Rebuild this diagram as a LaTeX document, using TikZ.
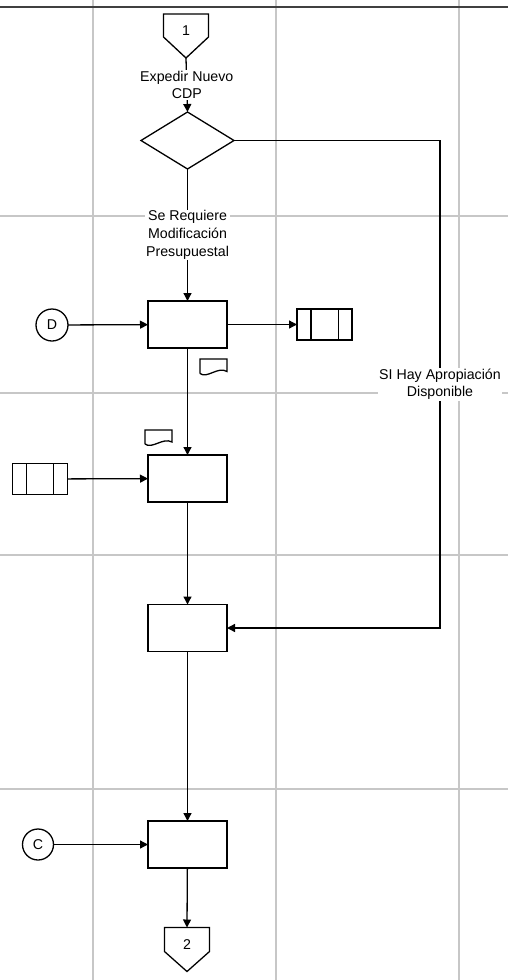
\documentclass[tikz,border=0pt]{standalone}
\usepackage{fontspec}
\setmainfont{Liberation Sans}
\usetikzlibrary{arrows.meta,shapes.geometric,calc}
\begin{document}
\begin{tikzpicture}[x=1pt,y=-1pt,
  font=\fontsize{14.2}{17.8}\selectfont,
  grid/.style={draw=black!22,line width=1.2pt},
  topline/.style={draw=black!75,line width=2pt},
  shp/.style={draw=black,line width=1.3pt},
  proc/.style={shp,rectangle,minimum width=79pt,minimum height=47pt,inner sep=0pt,outer sep=0pt},
  conn/.style={shp,circle,minimum size=32pt,inner sep=0pt,outer sep=0pt},
  stor/.style={rectangle,minimum width=55pt,minimum height=31pt,inner sep=0pt,outer sep=0pt},
  pent/.style={rectangle,minimum width=45pt,minimum height=44pt,inner sep=0pt,outer sep=0pt},
  flow/.style={draw=black,line width=1.3pt,-{Triangle[length=8pt,width=8pt]}},
  lbl/.style={fill=white,align=center,inner sep=1pt}
]
\useasboundingbox (0,0) rectangle (508,980);
% grid
\foreach \x in {93,276,459} \draw[grid] (\x,0) -- (\x,980);
\foreach \y in {216,393,555,789} \draw[grid] (0,\y) -- (508,\y);
\draw[topline] (0,6.5) -- (508,6.5);

% off-page connector 1
\node[pent] (c1) at (186,36) {};
\draw[shp] (c1.north west) -- (c1.north east) -- ($(c1.north east)+(0,23)$) -- (c1.south) -- ($(c1.north west)+(0,23)$) -- cycle;
\node (t1) at (186,30.5) {1};

% decision
\node[shp,diamond,minimum width=93pt,minimum height=57pt,inner sep=0pt,outer sep=0pt,aspect=1.63] (dia) at (187.5,140.5) {};

% processes
\node[proc] (b1) at (187.5,324.5) {};
\node[proc] (b2) at (187.5,478.5) {};
\node[proc] (b3) at (187.5,628) {};
\node[proc] (b4) at (187.5,844.5) {};

% connectors
\node[conn] (d) at (52,325) {D};
\node[conn,minimum size=31pt] (c) at (38,844.5) {C};

% storage
\node[stor] (s1) at (324.5,324.5) {};
\draw[shp] (s1.north west) rectangle (s1.south east);
\draw[shp] ($(s1.north west)+(14,0)$) -- ($(s1.south west)+(14,0)$);
\draw[shp] ($(s1.north east)+(-13.5,0)$) -- ($(s1.south east)+(-13.5,0)$);
\node[stor] (s2) at (39.7,479) {};
\draw[shp] (s2.north west) rectangle (s2.south east);
\draw[shp] ($(s2.north west)+(14,0)$) -- ($(s2.south west)+(14,0)$);
\draw[shp] ($(s2.north east)+(-13.5,0)$) -- ($(s2.south east)+(-13.5,0)$);

% documents
\draw[shp] (200,373.5) -- (200,359) -- (227,359) -- (227,371.5) .. controls (218,366) and (207,379) .. (200,373.5);
\draw[shp] (145,444) -- (145,430) -- (172,430) -- (172,442) .. controls (163,437) and (152,449.5) .. (145,444);

% off-page connector 2
\node[pent] (c2) at (187,949.5) {};
\draw[shp] (c2.north west) -- (c2.north east) -- ($(c2.north east)+(0,24)$) -- (c2.south) -- ($(c2.north west)+(0,24)$) -- cycle;
\node (t2) at (187,945) {2};

% flows
\coordinate (k1) at (440,140.5);
\coordinate (k2) at (440,628);
\draw[flow] (c1.south) -- node[lbl] {Expedir Nuevo\\CDP} (dia.north);
\draw[flow] (dia.south) -- node[lbl] {Se Requiere\\Modificación\\Presupuestal} (b1.north);
\draw[flow] (dia.east) -- (k1) -- node[lbl] {SI Hay Apropiación\\Disponible} (k2) -- (b3.east);
\draw[flow] (d) -- (b1);
\draw[flow] (b1) -- (s1);
\draw[flow] (b1) -- (b2);
\draw[flow] (s2) -- (b2);
\draw[flow] (b2) -- (b3);
\draw[flow] (b3) -- (b4);
\draw[flow] (c) -- (b4);
\draw[flow] (b4) -- (c2.north);
\end{tikzpicture}
\end{document}
